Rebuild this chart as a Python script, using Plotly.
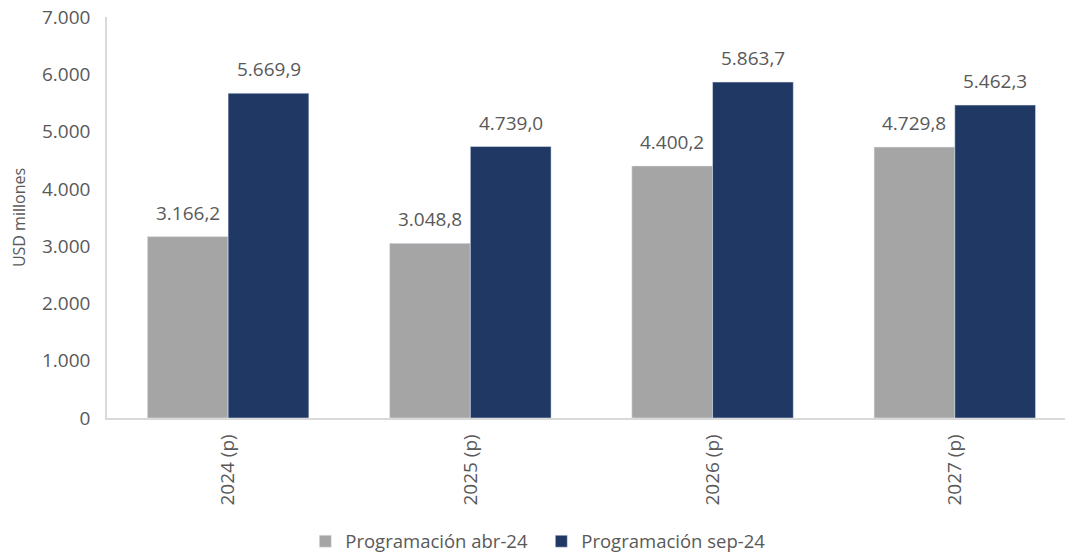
import plotly.graph_objects as go

categories = ["2024 (p)", "2025 (p)", "2026 (p)", "2027 (p)"]
abr24 = [3166.2, 3048.8, 4400.2, 4729.8]
sep24 = [5669.9, 4739.0, 5863.7, 5462.3]
series_names = ["Programación abr-24", "Programación sep-24"]
y_ticks = [0, 1000, 2000, 3000, 4000, 5000, 6000, 7000]

GRAY = "#A5A5A5"
NAVY = "#203864"
TXT = "#595959"
FONT = "Open Sans"
FS = 19


def fmt(v):
    s = f"{v:,.1f}"
    return s.replace(",", "X").replace(".", ",").replace("X", ".")


fig = go.Figure()
fig.add_trace(go.Bar(x=categories, y=abr24, name=series_names[0], marker_color=GRAY))
fig.add_trace(go.Bar(x=categories, y=sep24, name=series_names[1], marker_color=NAVY))

for vals, shift in ((abr24, -40.4), (sep24, 40.4)):
    for c, v in zip(categories, vals):
        fig.add_annotation(x=c, y=v, xref="x", yref="y", text=fmt(v), showarrow=False,
                           xshift=shift, yshift=9, yanchor="bottom",
                           font=dict(family=FONT, size=FS, color=TXT))

fig.update_layout(
    width=1065, height=554,
    margin=dict(l=107, r=0, t=17, b=136, autoexpand=False),
    plot_bgcolor="white", paper_bgcolor="white",
    barmode="group", bargap=1/3, bargroupgap=0,
    separators=",.",
    font=dict(family=FONT, size=FS, color=TXT),
    showlegend=True,
    legend=dict(orientation="h", x=0.207, xanchor="left", y=-0.3085, yanchor="middle",
                font=dict(family=FONT, size=18.5, color=TXT), traceorder="normal",
                entrywidth=191, entrywidthmode="pixels", itemwidth=30),
)
fig.update_xaxes(range=[-0.5, 3.455], tickangle=-90, showline=True, linecolor="#D9D9D9",
                 linewidth=1.5, showgrid=False, ticks="", automargin=False,
                 ticklabelstandoff=7,
                 tickfont=dict(family=FONT, size=FS, color=TXT))
fig.update_yaxes(range=[0, 7000], tickvals=y_ticks, tickformat=",d", showline=True,
                 linecolor="#D9D9D9", linewidth=1.5, showgrid=False, ticks="", zeroline=False,
                 ticklabelstandoff=11, automargin=False, ticklabeloverflow="allow",
                 title=dict(text="USD millones", standoff=12, font=dict(family=FONT, size=16, color=TXT)),
                 tickfont=dict(family=FONT, size=FS, color=TXT))

fig.write_html("out.html", config={"displayModeBar": False},
               post_script="document.body.style.margin='0px';")
